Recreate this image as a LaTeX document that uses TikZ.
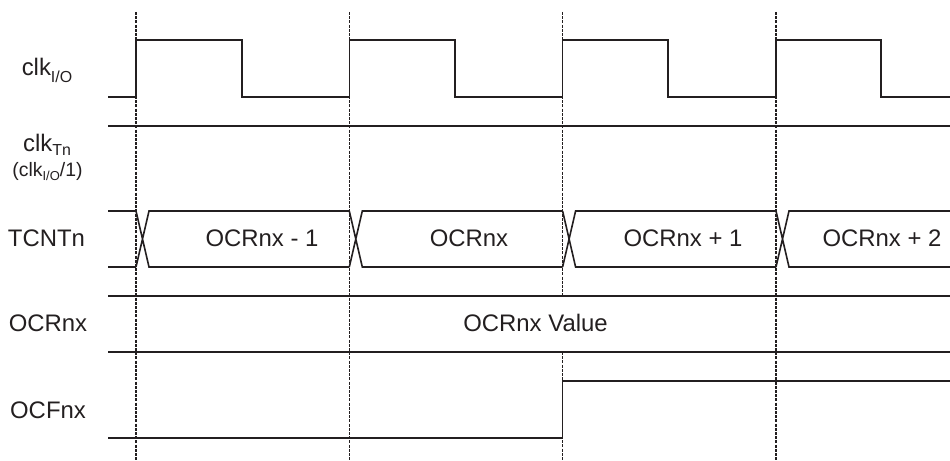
\documentclass[tikz,border=0pt]{standalone}
\usepackage{fontspec}
\setmainfont{Liberation Sans}
\definecolor{inkgray}{RGB}{35,31,32}
\tikzset{
  sig/.style={line width=1.6bp, line join=miter, draw=inkgray},
  edgeline/.style={line width=1.3bp, draw=inkgray, dash pattern=on 3bp off 1.2bp},
  lbl/.style={font=\fontsize{24}{28}\selectfont, text=inkgray, inner sep=0pt, anchor=base},
  sublbl/.style={font=\fontsize{19.5}{22}\selectfont, text=inkgray, inner sep=0pt, anchor=base}
}
\newcommand{\lowsub}[2]{\raisebox{-#1bp}{\fontsize{16}{16}\selectfont #2}}
\begin{document}
\begin{tikzpicture}[x=1bp, y=-1bp]
  \useasboundingbox (0,0) rectangle (950,461);
  \foreach \t in {136,349.3,776}
    \draw[edgeline] (\t,12) -- (\t,461);
  \draw[edgeline] (562.6,12) -- (562.6,296) (562.6,352) -- (562.6,461);
  \draw[sig] (108,97) -- (136,97) -- (136,40) -- (242,40) -- (242,97)
    -- (349.3,97) -- (349.3,40) -- (455,40) -- (455,97)
    -- (562.6,97) -- (562.6,40) -- (668,40) -- (668,97)
    -- (776,97) -- (776,40) -- (881,40) -- (881,97) -- (950,97);
  \draw[sig] (108,126) -- (950,126);
  \draw[sig] (108,211) -- (136,211) (108,267) -- (136,267);
  \foreach \t/\n in {136/349.3,349.3/562.6,562.6/776,776/950}
    \draw[sig] (\t,211) -- (\t+13,267) -- (\n,267)
               (\t,267) -- (\t+13,211) -- (\n,211);
  \draw[sig] (108,296) -- (950,296);
  \draw[sig] (108,352) -- (950,352);
  \draw[sig] (108,438) -- (562.6,438) -- (562.6,381) -- (950,381);
  \node[lbl] (clkio) at (47,76) {clk\lowsub{7}{I/O}};
  \node[lbl] (clktn) at (47,152) {clk\lowsub{4}{Tn}};
  \node[sublbl] (clkdiv) at (47.5,177) {(clk\raisebox{-4bp}{\fontsize{13}{13}\selectfont I/O}/1)};
  \node[lbl] (tcnt) at (46.5,247) {TCNTn};
  \node[lbl] (ocr) at (48,332) {OCRnx};
  \node[lbl] (ocf) at (48,418) {OCFnx};
  \node[lbl] (cnta) at (262,247) {OCRnx - 1};
  \node[lbl] (cntb) at (469,247) {OCRnx};
  \node[lbl] (cntc) at (683,247) {OCRnx + 1};
  \node[lbl] (cntd) at (882,247) {OCRnx + 2};
  \node[lbl] (ocrval) at (535.5,332) {OCRnx Value};
\end{tikzpicture}
\end{document}
